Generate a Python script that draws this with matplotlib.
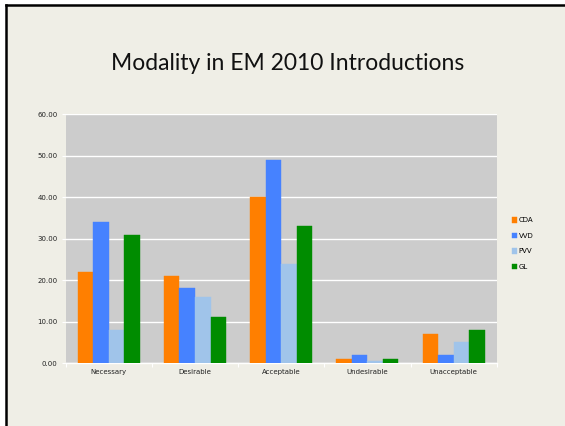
import numpy as np
import matplotlib.pyplot as plt
from matplotlib.lines import Line2D
from matplotlib.patches import Rectangle

categories = ["Necessary", "Desirable", "Acceptable", "Undesirable", "Unacceptable"]
parties = ["CDA", "VVD", "PVV", "GL"]
cda = [22, 21, 40, 1, 7]
vvd = [34, 18, 49, 2, 2]
pvv = [8, 16, 24, 0.6, 5]
gl = [31, 11, 33, 1, 8]
colors = ["#FF7F00", "#4682FF", "#A0C4EA", "#008C00"]

fig = plt.figure(figsize=(5.65, 4.26), dpi=100)
fig.patch.set_facecolor("white")
# slide background and black frame (top and left edges)
fig.add_artist(Rectangle((7 / 565, 0), 1, 1 - 6 / 426, transform=fig.transFigure,
                         facecolor="#EFEEE6", edgecolor="none", zorder=-1))
fig.add_artist(Line2D([6 / 565, 6 / 565], [0, 1 - 5 / 426], transform=fig.transFigure,
                      color="black", lw=1.8))
fig.add_artist(Line2D([6 / 565, 1], [1 - 5 / 426, 1 - 5 / 426], transform=fig.transFigure,
                      color="black", lw=1.8))

fig.text(288 / 565, 1 - 63 / 426, "Modality in EM 2010 Introductions",
         ha="center", va="center", fontsize=16.5, family="Lato", color="#111111")

ax = fig.add_axes([65.7 / 565, 1 - 363 / 426, (496.7 - 65.7) / 565, (363 - 114.3) / 426])
ax.set_facecolor("#CCCCCC")

x = np.arange(len(categories))
w = 0.18
for i, (vals, name) in enumerate(zip([cda, vvd, pvv, gl], parties)):
    ax.bar(x + (i - 1.5) * w, vals, w, color=colors[i], label=name, zorder=3,
           edgecolor=colors[i], linewidth=0.3)

ax.set_xlim(-0.5, len(categories) - 0.5)
ax.set_ylim(0, 60)
ax.set_yticks(np.arange(0, 61, 10))
ax.set_yticklabels([f"{v:.2f}" for v in np.arange(0, 61, 10)])
ax.yaxis.grid(True, color="white", lw=1.0, zorder=1)
ax.set_axisbelow(True)
ax.set_xticks(x)
ax.set_xticklabels(categories)
ax.set_xticks(np.arange(-0.5, len(categories), 1), minor=True)
ax.tick_params(axis="x", which="major", length=0, labelsize=5, pad=4, colors="#222222")
ax.tick_params(axis="x", which="minor", length=3, color="white", width=0.8)
ax.tick_params(axis="y", length=3, color="white", width=0.8, labelsize=5, pad=3,
               colors="white", labelcolor="#222222")
for s in ["top", "right", "left"]:
    ax.spines[s].set_visible(False)
ax.spines["bottom"].set_color("white")
ax.spines["bottom"].set_linewidth(1.0)

leg = ax.legend(loc="center left", bbox_to_anchor=(1.02, 0.48), frameon=False,
                fontsize=5, handlelength=0.8, handleheight=0.8, handletextpad=0.2,
                labelspacing=1.35)

fig.savefig("out.png", dpi=100, facecolor=fig.get_facecolor())
